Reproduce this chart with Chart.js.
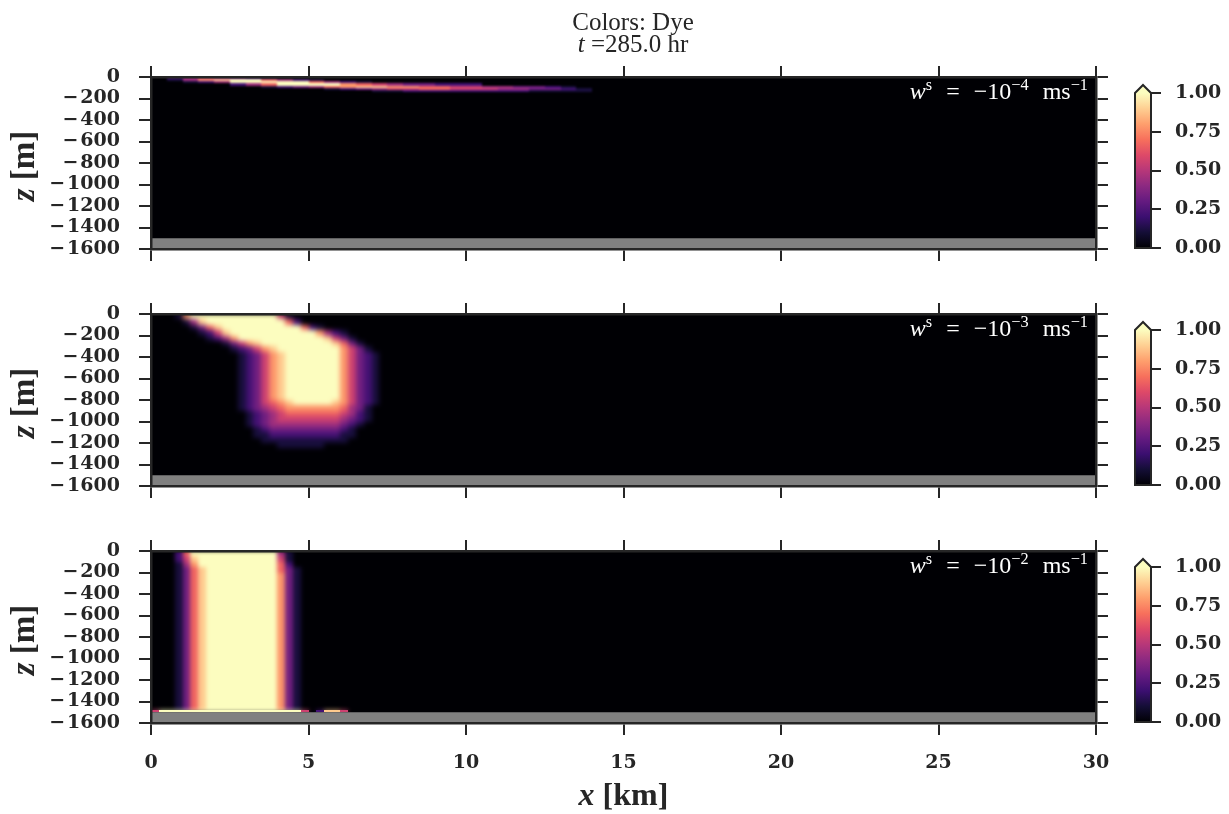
<!DOCTYPE html>
<html>
<head>
<meta charset="utf-8">
<title>Colors: Dye</title>
<script src="https://cdn.jsdelivr.net/npm/chart.js@4.4.1/dist/chart.umd.min.js"></script>
<style>
  html, body { margin: 0; padding: 0; background: #fff; }
  #wrap { position: relative; width: 1229px; height: 814px; overflow: hidden; }
  #wrap canvas { position: absolute; left: 0; top: 0; }
  .txt { position: absolute; z-index: 5; white-space: nowrap; font-family: "Liberation Serif", "Times New Roman", serif; color: #262626; }
  .txt sup { font-size: 68%; vertical-align: 0; position: relative; top: -0.55em; }
</style>
</head>
<body>
<div id="wrap"></div>
<script>
// ---- values ----
const xTicks = [0, 5, 10, 15, 20, 25, 30];
const zTicks = [0, -200, -400, -600, -800, -1000, -1200, -1400, -1600];
const cbTicks = [0, 0.25, 0.5, 0.75, 1];
const settlingExp = [-4, -3, -2];
const timeHr = 285.0;
const landTop = -1500;

// dye concentration, one digit per cell: 0..9 -> 0..1 (9 = saturated)
// rows go down from the surface, columns start at x = 0

// w_s = -1e-4 : 0.5 km columns, 20 m rows
const dyeDx1 = 0.5;
const dyeZ1 = [0, -20, -40, -60, -80, -100, -120, -140];
const dyeRows1 = [
  "02454321",
  "01478996421",
  "00124999996421",
  "000002469999765433222",
  "000000012346788776655443321",
  "0000000000012345566555443321",
  "0000000000000011222222221111",
];

// w_s = -1e-3 : 0.25 km columns, 50 m rows
const dyeDx2 = 0.25;
const dyeZ2 = [0, -50, -100, -150, -200, -250, -300, -350, -400, -450, -500, -550, -600,
  -650, -700, -750, -800, -850, -900, -950, -1000, -1050, -1100, -1150, -1200, -1250];
const dyeRows2 = [
  "000179999999999951",
  "0000148999999999962",
  "0000013689999999999621",
  "0000001258999999999997421",
  "00000001247999999999998531",
  "000000000135789999999998631",
  "0000000000123578999999997531",
  "00000000000123578999999975321",
  "00000000000123578999999975321",
  "00000000000123578999999975321",
  "00000000000123578999999975321",
  "00000000000123578999999975321",
  "00000000000123578999999975321",
  "00000000000123578999999975321",
  "00000000000123578999999975321",
  "00000000000123578999999975321",
  "00000000000123567899999875321",
  "0000000000012345677777776431",
  "0000000000001234566666665421",
  "0000000000001234555555554321",
  "000000000000123444444444321",
  "00000000000001233333333321",
  "00000000000001122222222211",
  "0000000000000011111111111",
  "0000000000000000111111",
];

// w_s = -1e-2 : 0.25 km columns, thin layer on the bottom
const dyeDx3 = 0.25;
const dyeZ3 = [0, -50, -100, -150, -200, -1475, -1500];
const dyeRows3 = [
  "000269999999999941",
  "000258999999999951",
  "000147999999999962",
  "0001368999999999631",
  "0001368999999999731",
  "5999999999999999999502885",
];

const panels = [
  { dx: dyeDx1, z: dyeZ1, rows: dyeRows1 },
  { dx: dyeDx2, z: dyeZ2, rows: dyeRows2 },
  { dx: dyeDx3, z: dyeZ3, rows: dyeRows3 },
];

// ---- layout / style ----
const W = 1229, H = 814;
const plotLeft = 151, plotRight = 1096;
const panelTops = [77, 314, 551];
const panelH = 172;
const panelBlur = [1.0, 2.4, 1.9];
const crispRows = [[], [], [5]];   // rows drawn without softening (thin bottom layer)
const cbLeft = 1135, cbRight = 1151, cbTopOff = 16, cbBotOff = 171;
const ink = '#262626';
const tickFont = { family: 'DejaVu Serif', size: 19, weight: 'bold' };
const magmaStops = ['#000004', '#140e36', '#3b0f70', '#641a80', '#8c2981', '#b73779',
  '#de4968', '#f7705c', '#fe9f6d', '#fecf92', '#fcfdbf'];

const wrap = document.getElementById('wrap');

function hexRgb(h) {
  return [1, 3, 5].map(i => parseInt(h.slice(i, i + 2), 16));
}

// colour lookup in the magma colormap
function magma(v) {
  v = Math.max(0, Math.min(1, v));
  const t = v * (magmaStops.length - 1);
  const i = Math.min(Math.floor(t), magmaStops.length - 2);
  const f = t - i;
  const a = hexRgb(magmaStops[i]), b = hexRgb(magmaStops[i + 1]);
  const c = a.map((av, j) => Math.round(av + (b[j] - av) * f));
  return `rgb(${c[0]},${c[1]},${c[2]})`;
}

function addCanvas() {
  const c = document.createElement('canvas');
  c.width = W;
  c.height = H;
  c.style.width = W + 'px';
  c.style.height = H + 'px';
  wrap.appendChild(c);
  return c;
}

function addText(html, style) {
  const d = document.createElement('div');
  d.className = 'txt';
  d.innerHTML = html;
  Object.assign(d.style, style);
  wrap.appendChild(d);
}

const fmtZ = v => (v < 0 ? '\u2212\u200a' + (-v) : String(v));

// draws the dye cells through the chart's x / y scales,
// then softens them a little like the shaded original
function heatmapPlugin(grid, blur, crisp) {
  const drawRow = (c2d, xs, ys, row, r) => {
    const yt = Math.round(ys.getPixelForValue(grid.z[r]));
    const yb = Math.round(ys.getPixelForValue(grid.z[r + 1]));
    for (let c = 0; c < row.length; c++) {
      const d = Number(row[c]);
      if (!d) continue;
      const xl = Math.round(xs.getPixelForValue(c * grid.dx));
      const xr = Math.round(xs.getPixelForValue((c + 1) * grid.dx));
      c2d.fillStyle = magma(d / 9);
      c2d.fillRect(xl, yt, xr - xl, Math.max(1, yb - yt));
    }
  };
  return {
    id: 'heatmap',
    beforeDatasetsDraw(chart) {
      const { ctx, chartArea: a, scales } = chart;
      const xs = scales.x, ys = scales.y;
      const aw = a.right - a.left, ah = a.bottom - a.top;

      const off = document.createElement('canvas');
      off.width = chart.width;
      off.height = chart.height;
      const o = off.getContext('2d');
      o.fillStyle = magma(0);
      o.fillRect(a.left, a.top, aw, ah);
      grid.rows.forEach((row, r) => drawRow(o, xs, ys, row, r));

      ctx.save();
      ctx.beginPath();
      ctx.rect(a.left, a.top, aw, ah);
      ctx.clip();
      ctx.fillStyle = magma(0);
      ctx.fillRect(a.left, a.top, aw, ah);
      ctx.filter = `blur(${blur}px)`;
      ctx.drawImage(off, 0, 0);
      ctx.filter = 'none';
      crisp.forEach(r => drawRow(ctx, xs, ys, grid.rows[r], r));
      // sea floor
      const lt = ys.getPixelForValue(landTop);
      const lb = ys.getPixelForValue(zTicks[zTicks.length - 1]);
      ctx.fillStyle = '#808080';
      ctx.fillRect(a.left, lt, aw, lb - lt);
      ctx.restore();
    }
  };
}

const colorbarPlugin = {
  id: 'colorbar',
  beforeDatasetsDraw(chart) {
    const { ctx, chartArea: a, scales: { y } } = chart;
    const p0 = y.getPixelForValue(cbTicks[0]);
    const p1 = y.getPixelForValue(cbTicks[cbTicks.length - 1]);
    const mid = (a.left + a.right) / 2;
    const tip = p1 - 8;
    const g = ctx.createLinearGradient(0, p0, 0, p1);
    magmaStops.forEach((c, i) => g.addColorStop(i / (magmaStops.length - 1), c));
    ctx.save();
    ctx.fillStyle = g;
    ctx.fillRect(a.left, p1, a.right - a.left, p0 - p1);
    // "extend max" triangle
    ctx.beginPath();
    ctx.moveTo(a.left, p1);
    ctx.lineTo(mid, tip);
    ctx.lineTo(a.right, p1);
    ctx.closePath();
    ctx.fillStyle = magma(1);
    ctx.fill();
    ctx.beginPath();
    ctx.moveTo(a.left, p0);
    ctx.lineTo(a.left, p1);
    ctx.lineTo(mid, tip);
    ctx.lineTo(a.right, p1);
    ctx.lineTo(a.right, p0);
    ctx.closePath();
    ctx.strokeStyle = ink;
    ctx.lineWidth = 2;
    ctx.stroke();
    ctx.restore();
  }
};

const tickGrid = len => ({
  display: true, drawOnChartArea: false, drawTicks: true, tickLength: len,
  lineWidth: 2, tickWidth: 2, color: ink, tickColor: ink
});
const spine = { display: true, color: ink, width: 2.5, z: 1 };

function makePanel(k) {
  const top = panelTops[k];
  const bottom = top + panelH;
  const last = k === panelTops.length - 1;
  const bottomAxisH = last ? 60 : 12;
  const setX = s => { s.ticks = xTicks.map(v => ({ value: v })); };
  const setZ = s => { s.ticks = zTicks.map(v => ({ value: v })); };

  new Chart(addCanvas(), {
    type: 'scatter',
    data: { datasets: [] },
    options: {
      responsive: false,
      animation: false,
      events: [],
      layout: { padding: { left: 0, right: 0, top: top - 12, bottom: H - bottom - bottomAxisH } },
      plugins: { legend: { display: false }, tooltip: { enabled: false } },
      scales: {
        x: {
          type: 'linear', position: 'bottom', min: 0, max: 30,
          afterBuildTicks: setX,
          afterFit: s => { s.height = bottomAxisH; },
          ticks: { display: last, autoSkip: false, font: tickFont, color: ink, padding: 17, maxRotation: 0, callback: v => String(v) },
          grid: tickGrid(12),
          border: spine
        },
        x2: {
          type: 'linear', position: 'top', min: 0, max: 30,
          afterBuildTicks: setX,
          afterFit: s => { s.height = 12; },
          ticks: { display: false },
          grid: tickGrid(11),
          border: spine
        },
        y: {
          type: 'linear', position: 'left', min: -1600, max: 0,
          afterBuildTicks: setZ,
          afterFit: s => { s.width = plotLeft; },
          ticks: { autoSkip: false, font: tickFont, color: ink, padding: 19, callback: fmtZ },
          grid: tickGrid(12),
          border: spine
        },
        y2: {
          type: 'linear', position: 'right', min: -1600, max: 0,
          afterBuildTicks: setZ,
          afterFit: s => { s.width = W - plotRight; },
          ticks: { display: false },
          grid: tickGrid(12),
          border: spine
        }
      }
    },
    plugins: [heatmapPlugin(panels[k], panelBlur[k], crispRows[k])]
  });
}

function makeColorbar(k) {
  const yTop = panelTops[k] + cbTopOff;
  const yBot = panelTops[k] + cbBotOff;
  new Chart(addCanvas(), {
    type: 'scatter',
    data: { datasets: [] },
    options: {
      responsive: false,
      animation: false,
      events: [],
      layout: { padding: { left: cbLeft, right: 0, top: yTop, bottom: H - yBot } },
      plugins: { legend: { display: false }, tooltip: { enabled: false } },
      scales: {
        x: { type: 'linear', display: false, min: 0, max: 1 },
        y: {
          type: 'linear', position: 'right', min: 0, max: 1,
          afterBuildTicks: s => { s.ticks = cbTicks.map(v => ({ value: v })); },
          afterFit: s => { s.width = W - cbRight; },
          ticks: { autoSkip: false, font: tickFont, color: ink, padding: 14, callback: v => v.toFixed(2) },
          grid: tickGrid(10),
          border: { display: false }
        }
      }
    },
    plugins: [colorbarPlugin]
  });
}

panelTops.forEach((top, k) => {
  makePanel(k);
  makeColorbar(k);
});

// ---- texts ----
addText(`Colors: Dye<br><i>t</i> =${timeHr.toFixed(1)} hr`, {
  left: '433px', top: '11px', width: '400px', textAlign: 'center',
  fontSize: '25px', lineHeight: '22px'
});

panelTops.forEach((top, k) => {
  addText('<b><i>z</i> [m]</b>', {
    left: '23px', top: (top + panelH / 2 + 3) + 'px', fontSize: '33px', lineHeight: '33px',
    transform: 'translate(-50%, -50%) rotate(-90deg)'
  });
  addText(`<i>w</i><sup>s</sup> = \u221210<sup>\u2212${-settlingExp[k]}</sup> ms<sup>\u22121</sup>`, {
    right: (W - 1088) + 'px', top: (top + 3) + 'px', fontSize: '24px', lineHeight: '22px',
    wordSpacing: '8px', color: '#ffffff'
  });
});

addText('<b><i>x</i> [km]</b>', {
  left: ((plotLeft + plotRight) / 2) + 'px', top: '794px', fontSize: '32px', lineHeight: '32px',
  transform: 'translate(-50%, -50%)'
});
</script>
</body>
</html>
